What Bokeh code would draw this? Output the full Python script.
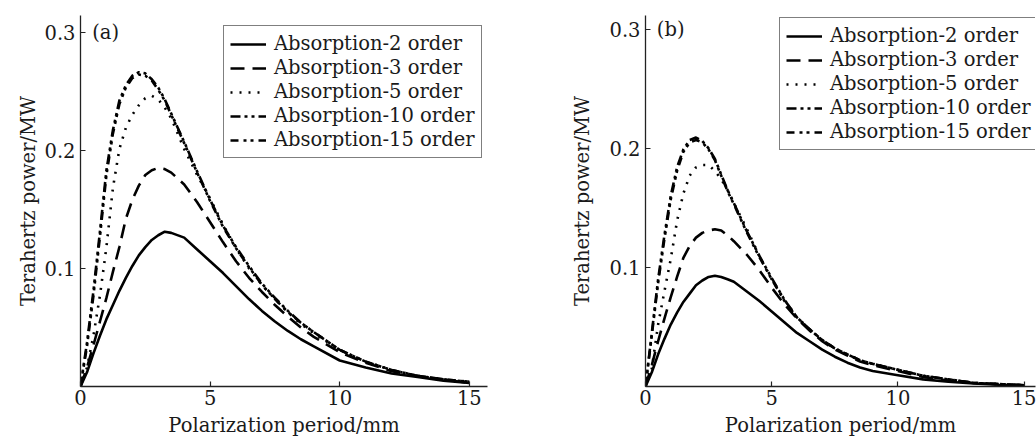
from bokeh.plotting import figure
from bokeh.layouts import row
from bokeh.models import FixedTicker, Label, Legend, LegendItem
from bokeh.embed import file_html
from bokeh.resources import INLINE

# ---------------- data ----------------
period = [0, 0.25, 0.5, 0.75, 1, 1.25, 1.5, 1.75, 2, 2.25, 2.5, 2.75, 3, 3.25, 3.5,
          4, 4.5, 5, 5.5, 6, 6.5, 7, 7.5, 8, 8.5, 9, 10, 11, 12, 13, 14, 15]

series_names = ["Absorption-2 order", "Absorption-3 order", "Absorption-5 order",
                "Absorption-10 order", "Absorption-15 order"]

# panel (a)
a_order2 = [0, 0.012, 0.028, 0.043, 0.057, 0.069, 0.081, 0.092, 0.102, 0.111, 0.118, 0.124, 0.128, 0.131, 0.130,
            0.126, 0.116, 0.106, 0.096, 0.085, 0.074, 0.064, 0.055, 0.047, 0.040, 0.034, 0.022, 0.016, 0.011, 0.008, 0.005, 0.003]
a_order3 = [0, 0.016, 0.035, 0.055, 0.075, 0.097, 0.118, 0.142, 0.158, 0.170, 0.179, 0.183, 0.185, 0.184, 0.181,
            0.171, 0.156, 0.139, 0.122, 0.106, 0.092, 0.080, 0.069, 0.059, 0.050, 0.042, 0.029, 0.020, 0.013, 0.009, 0.006, 0.003]
a_order5 = [0, 0.016, 0.043, 0.077, 0.118, 0.168, 0.201, 0.219, 0.230, 0.238, 0.244, 0.246, 0.243, 0.236, 0.227,
            0.201, 0.179, 0.159, 0.137, 0.117, 0.100, 0.086, 0.074, 0.063, 0.053, 0.045, 0.031, 0.021, 0.014, 0.009, 0.006, 0.004]
a_order10 = [0, 0.037, 0.081, 0.131, 0.183, 0.217, 0.242, 0.255, 0.263, 0.266, 0.265, 0.260, 0.253, 0.243, 0.231,
             0.207, 0.182, 0.158, 0.136, 0.118, 0.102, 0.087, 0.075, 0.064, 0.054, 0.046, 0.031, 0.021, 0.014, 0.009, 0.006, 0.004]
a_order15 = [0, 0.034, 0.077, 0.127, 0.179, 0.214, 0.239, 0.253, 0.261, 0.264, 0.263, 0.259, 0.251, 0.242, 0.230,
             0.206, 0.181, 0.157, 0.135, 0.117, 0.101, 0.086, 0.074, 0.063, 0.054, 0.046, 0.031, 0.021, 0.014, 0.009, 0.006, 0.004]

# panel (b)
b_order2 = [0, 0.012, 0.027, 0.040, 0.052, 0.062, 0.071, 0.078, 0.085, 0.089, 0.092, 0.093, 0.092, 0.090, 0.088,
            0.080, 0.072, 0.063, 0.054, 0.045, 0.038, 0.031, 0.025, 0.020, 0.016, 0.013, 0.0095, 0.006, 0.004, 0.0025, 0.0015, 0.001]
b_order3 = [0, 0.018, 0.038, 0.057, 0.075, 0.092, 0.108, 0.118, 0.125, 0.129, 0.131, 0.132, 0.131, 0.127, 0.122,
            0.111, 0.098, 0.083, 0.069, 0.057, 0.047, 0.038, 0.031, 0.026, 0.021, 0.018, 0.013, 0.008, 0.005, 0.003, 0.002, 0.001]
b_order5 = [0, 0.015, 0.052, 0.080, 0.107, 0.139, 0.162, 0.177, 0.184, 0.186, 0.186, 0.181, 0.174, 0.165, 0.154,
            0.133, 0.110, 0.090, 0.073, 0.058, 0.048, 0.039, 0.032, 0.027, 0.022, 0.019, 0.014, 0.009, 0.006, 0.003, 0.002, 0.001]
b_order10 = [0, 0.045, 0.090, 0.127, 0.160, 0.184, 0.199, 0.207, 0.209, 0.206, 0.200, 0.191, 0.178, 0.165, 0.154,
             0.131, 0.110, 0.091, 0.073, 0.058, 0.048, 0.039, 0.032, 0.027, 0.022, 0.019, 0.014, 0.009, 0.006, 0.003, 0.002, 0.001]
b_order15 = [0, 0.043, 0.087, 0.124, 0.157, 0.181, 0.197, 0.205, 0.207, 0.205, 0.199, 0.190, 0.177, 0.164, 0.153,
             0.130, 0.109, 0.090, 0.072, 0.058, 0.048, 0.039, 0.032, 0.027, 0.022, 0.019, 0.014, 0.009, 0.006, 0.003, 0.002, 0.001]

x_ticks = [0, 5, 10, 15]
y_ticks = [0.1, 0.2, 0.3]
x_title = "Polarization period/mm"
y_title = "Terahertz power/MW"

FONT = "DejaVu Serif"
FS = "19.5px"
styles = [
    dict(line_dash="solid", line_width=2.6),
    dict(line_dash="14 8", line_width=2.6),
    dict(line_dash="2 7", line_width=2.6),
    dict(line_dash="10 4 3 4 3 4", line_width=2.6),
    dict(line_dash="8 5 3 4 3 5", line_width=2.6),
]


def make_panel(tag, series, width, height, x_end, y_end, border, legend_loc, ylab_standoff):
    p = figure(width=width, height=height, output_backend="svg", toolbar_location=None,
               x_range=(0, x_end), y_range=(0, y_end),
               min_border_left=border[0], min_border_right=border[1],
               min_border_top=border[2], min_border_bottom=border[3])
    p.grid.visible = False
    p.outline_line_color = None
    p.background_fill_color = "white"
    p.border_fill_color = "white"

    items = []
    for name, ys, st in zip(series_names, series, styles):
        r = p.line(period, ys, line_color="black", line_join="round", **st)
        items.append(LegendItem(label=name, renderers=[r]))

    for ax in (p.xaxis[0], p.yaxis[0]):
        ax.axis_line_color = "#222222"
        ax.axis_line_width = 1.3
        ax.major_tick_in = 5
        ax.major_tick_out = 0
        ax.major_tick_line_color = "#222222"
        ax.major_tick_line_width = 1.2
        ax.minor_tick_line_color = None
        ax.major_label_text_font = FONT
        ax.major_label_text_font_size = FS
        ax.major_label_text_color = "#1a1a1a"
        ax.axis_label_text_font = FONT
        ax.axis_label_text_font_size = FS
        ax.axis_label_text_font_style = "normal"
        ax.axis_label_text_color = "#1a1a1a"
    p.xaxis[0].ticker = FixedTicker(ticks=x_ticks)
    p.yaxis[0].ticker = FixedTicker(ticks=y_ticks)
    p.xaxis[0].axis_label = x_title
    p.yaxis[0].axis_label = y_title
    p.xaxis[0].major_label_standoff = 3
    p.xaxis[0].axis_label_standoff = 6
    p.yaxis[0].major_label_standoff = 5
    p.yaxis[0].axis_label_standoff = ylab_standoff

    legend = Legend(items=items, location=legend_loc)
    legend.label_text_font = FONT
    legend.label_text_font_size = FS
    legend.label_text_color = "#1a1a1a"
    legend.glyph_width = 36
    legend.glyph_height = 22
    legend.label_height = 22
    legend.spacing = 1
    legend.padding = 6
    legend.margin = 0
    legend.label_standoff = 8
    legend.border_line_color = "black"
    legend.border_line_width = 1.5
    legend.background_fill_color = "white"
    legend.background_fill_alpha = 1.0
    p.add_layout(legend, "center")

    p.add_layout(Label(x=0.45, y=0.3, text=tag, text_baseline="middle",
                       text_font=FONT, text_font_size=FS, text_color="#1a1a1a"))
    return p


p1 = make_panel("(a)", [a_order2, a_order3, a_order5, a_order10, a_order15],
                width=520, height=439, x_end=15.7, y_end=0.314,
                border=(80, 33, 15, 52), legend_loc=(143, 228), ylab_standoff=1)
p2 = make_panel("(b)", [b_order2, b_order3, b_order5, b_order10, b_order15],
                width=516, height=439, x_end=15.45, y_end=0.3115,
                border=(125, 1, 6, 53), legend_loc=(134, 236), ylab_standoff=12)

layout = row(p1, p2, spacing=0)
open("out.html", "w").write(file_html(layout, INLINE))
